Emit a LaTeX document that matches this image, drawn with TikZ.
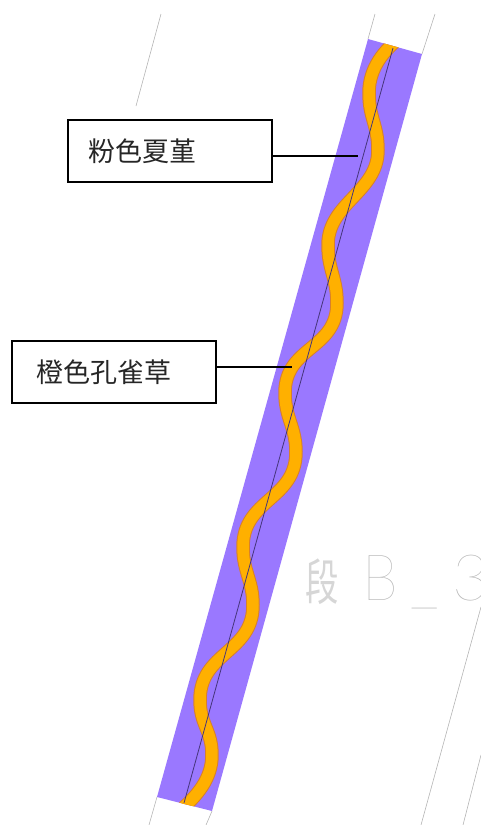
\documentclass[tikz,border=0pt]{standalone}
\usepackage{graphicx}
\usepackage{fontspec}
\newfontfamily\cjk{Noto Sans CJK SC}
\newfontfamily\cadlatin{Lato Hairline}
\definecolor{stripfill}{HTML}{9A78FF}
\definecolor{waveorange}{HTML}{FFB000}
\definecolor{waveedge}{HTML}{D8802A}
\definecolor{axisline}{HTML}{45357A}
\definecolor{cadgray}{HTML}{B4B4B4}
\tikzset{
  labelbox/.style={draw=black,line width=1.5pt,minimum width=204pt,minimum height=62pt,inner xsep=21pt,inner ysep=0pt,text width=162pt,align=left,font=\cjk\fontsize{27}{30}\selectfont,anchor=north west,text=black!85},
  leader/.style={draw=black,line width=1.2pt},
  cadline/.style={draw=cadgray,line width=0.6pt},
  wavepath/.style={line cap=butt,line join=round}
}
\begin{document}
\begin{tikzpicture}[x=1pt,y=-1pt]
\useasboundingbox (0,0) rectangle (481,825);
% CAD lines
\draw[cadline] (161,14) -- (136,106);
\draw[cadline] (375,14) -- (368,39);
\draw[cadline] (435,14) -- (422,54);
\draw[cadline] (157,797) -- (149,825);
\draw[cadline] (212,811) -- (206,825);
\draw[cadline] (481,607) -- (421,825);
\draw[cadline] (481,755) -- (463,825);
% strip
\fill[stripfill] (368,39) -- (422,54) -- (212,811) -- (157,797) -- cycle;
\begin{scope}
\clip (368,39) -- (422,54) -- (212,811) -- (157,797) -- cycle;
\def\wavecurve{(402,36) .. controls (384,50) and (369,68) .. (369,93)
  .. controls (369,118) and (378,125) .. (378,150)
  .. controls (378,192) and (328,203) .. (328,245)
  .. controls (328,270) and (337,278) .. (337,303)
  .. controls (337,350) and (285,346) .. (285,393)
  .. controls (285,418) and (296,427) .. (296,452)
  .. controls (296,500) and (243,499) .. (243,547)
  .. controls (243,572) and (253,580) .. (253,605)
  .. controls (253,653) and (200,652) .. (200,700)
  .. controls (200,725) and (212,730) .. (212,755)
  .. controls (212,778) and (198,796) .. (176,814)}
\draw[wavepath,draw=waveedge,line width=13.5pt] \wavecurve;
\draw[wavepath,draw=waveorange,line width=11.5pt] \wavecurve;
\end{scope}
\draw[axisline,line width=0.8pt] (393,48) -- (184,803);
% labels
\node[labelbox] (pink) at (67,119) {粉色夏堇};
\node[labelbox] (orange) at (11,340) {\hspace*{4pt}橙色孔雀草};
\coordinate (pinktip) at (358,156);
\coordinate (orangetip) at (292,367);
\draw[leader] (pinktip -| pink.east) -- (pinktip);
\draw[leader] (orangetip -| orange.east) -- (orangetip);
% CAD text
\node[anchor=base west,text=cadgray!55,inner sep=0pt,font=\cjk\fontsize{44}{48}\selectfont] (cadtext) at (305,600) {\scalebox{0.76}[1.12]{段}\hspace{24pt}{\color{cadgray}\cadlatin\fontsize{64}{64}\selectfont\scalebox{0.9}[1]{B}\hspace{12pt}\_\hspace{14pt}3}};
\end{tikzpicture}
\end{document}
